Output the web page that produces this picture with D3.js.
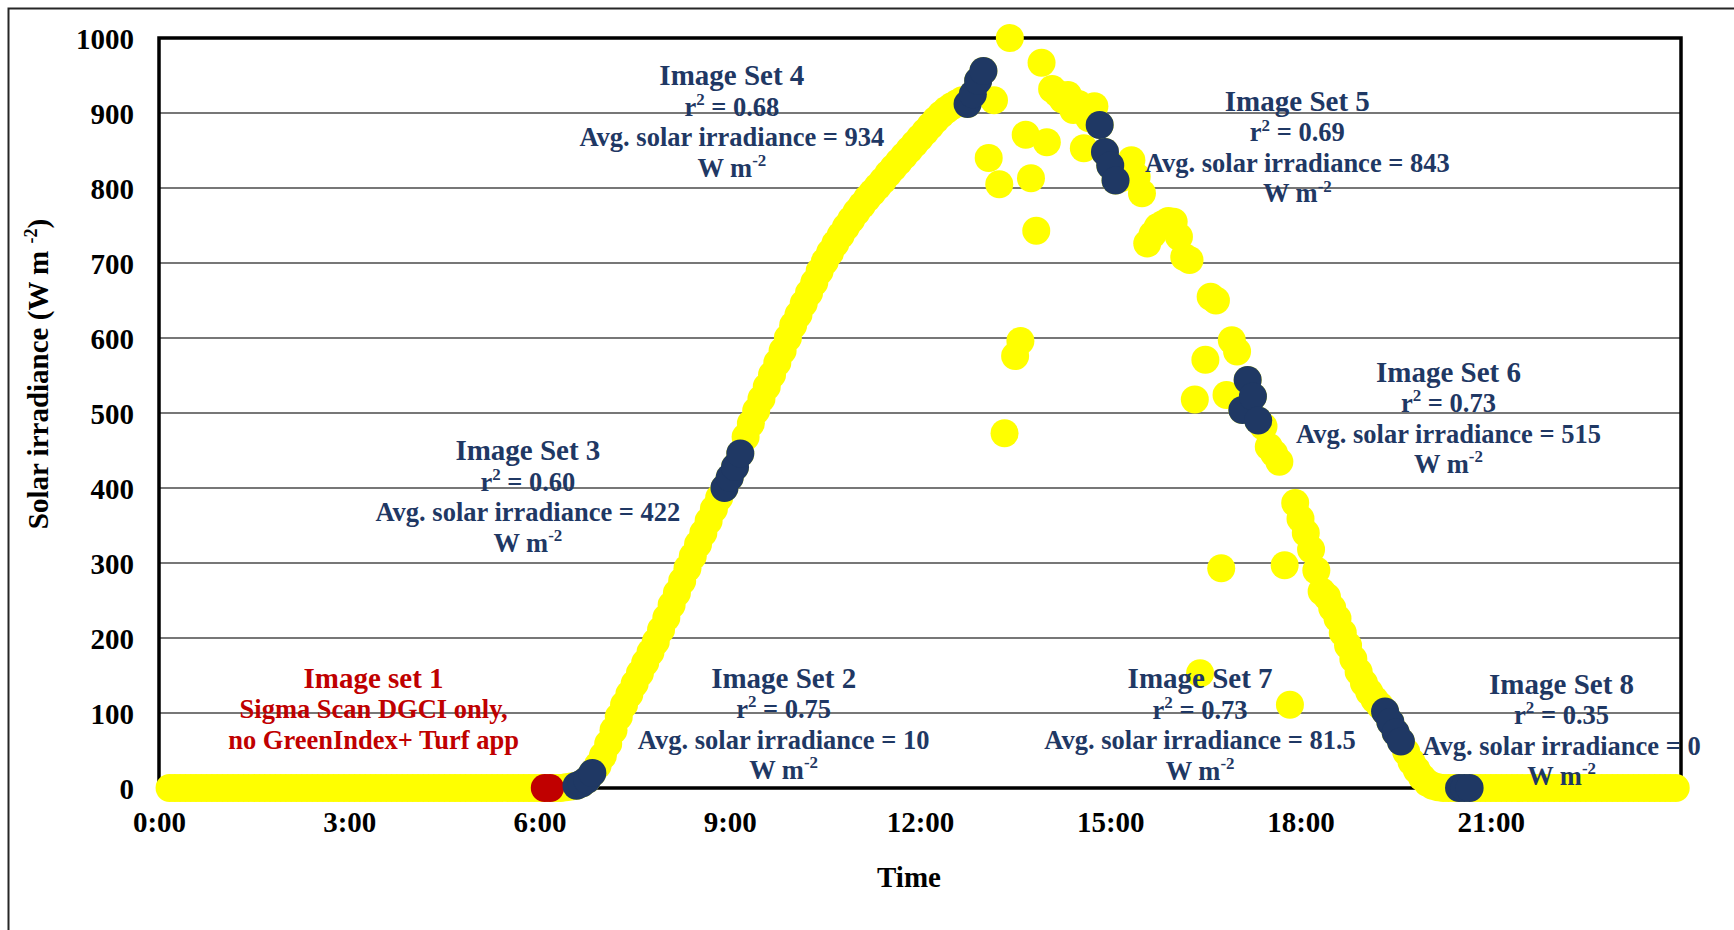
<!DOCTYPE html>
<html>
<head>
<meta charset="utf-8">
<script src="https://cdn.jsdelivr.net/npm/d3@7"></script>
<style>
  html, body { margin: 0; padding: 0; background: #ffffff; }
  svg { display: block; }
  text { font-family: "Liberation Serif", "Times New Roman", serif; font-weight: bold; }
</style>
</head>
<body>
<svg id="chart" width="1734" height="930"></svg>
<script>
// ---- Data -----------------------------------------------------------------
// Logger readings of solar irradiance (W m-2), one every 5 minutes from 0:10.
const readingStart = "0:10";
const readingStepMinutes = 5;
const irradiance = [
  // 0:10 - 0:55
  0, 0, 0, 0, 0, 0, 0, 0, 0, 0,
  // 1:00 - 5:55
  0, 0, 0, 0, 0, 0, 0, 0, 0, 0, 0, 0,
  0, 0, 0, 0, 0, 0, 0, 0, 0, 0, 0, 0,
  0, 0, 0, 0, 0, 0, 0, 0, 0, 0, 0, 0,
  0, 0, 0, 0, 0, 0, 0, 0, 0, 0, 0, 0,
  0, 0, 0, 0, 0, 0, 0, 0, 0, 0, 0, 0,
  // 6:00
  0, 0, 0, 0, 0, 1, 2, 3, 6, 11, 20, 30,
  // 7:00
  43, 59, 77, 95, 111, 125, 139, 153, 167, 181, 195, 211,
  // 8:00
  227, 244, 260, 276, 293, 309, 325, 340, 356, 372, 387, 400,
  // 9:00
  414, 428, 446, 468, 486, 503, 519, 535, 551, 567, 583, 600,
  // 10:00
  617, 631, 646, 660, 674, 689, 702, 714, 726, 737, 748, 758,
  // 11:00
  768, 777, 786, 794, 802, 810, 819, 827, 835, 843, 851, 859,
  // 12:00
  867, 875, 883, 891, 898, 904, 909, 913, 917, 912, 925, 943,
  // 13:00
  956, 840, 917, 805, 473, 1000, 576, 596, 871, 813, 743, 967,
  // 14:00
  861, 932, 926, 918, 924, 904, 912, 853, 893, 909, 884, 848,
  // 15:00
  830, 810, 813, 822, 837, 815, 793, 726, 738, 748, 752, 756,
  // 16:00
  755, 735, 708, 704, 518, 153, 571, 655, 650, 293, 524, 597,
  // 17:00
  582, 504, 544, 522, 490, 482, 455, 446, 435, 297, 111, 380,
  // 18:00
  359, 340, 318, 290, 262, 255, 240, 226, 207, 190, 172, 155,
  // 19:00
  140, 128, 118, 110, 102, 88, 74, 62, 48, 35, 24, 14,
  // 20:00
  7, 3, 1, 0, 0, 0, 0, 0, 0, 0, 0, 0,
  // 21:00 - 23:55
  0, 0, 0, 0, 0, 0, 0, 0, 0, 0, 0, 0,
  0, 0, 0, 0, 0, 0, 0, 0, 0, 0, 0, 0,
  0, 0, 0, 0, 0, 0, 0, 0, 0, 0, 0, 0
];

// Readings taken while each image set was captured
const set1Times = ["6:05", "6:10"];
const set1Values = [0, 0];
const set2Times = ["6:35", "6:40", "6:45", "6:50"];
const set2Values = [3, 6, 11, 20];
const set3Times = ["8:55", "9:00", "9:05", "9:10"];
const set3Values = [400, 414, 428, 446];
const set4Times = ["12:45", "12:50", "12:55", "13:00"];
const set4Values = [912, 925, 943, 956];
const set5Times = ["14:50", "14:55", "15:00", "15:05"];
const set5Values = [884, 848, 830, 810];
const set6Times = ["17:05", "17:10", "17:15", "17:20"];
const set6Values = [504, 544, 522, 490];
const set7Times = ["19:20", "19:25", "19:30", "19:35"];
const set7Values = [102, 88, 74, 62];
const set8Times = ["20:30", "20:35", "20:40"];
const set8Values = [0, 0, 0];

// Annotation text for each image set
const setTitles = ["Image set 1", "Image Set 2", "Image Set 3", "Image Set 4",
                   "Image Set 5", "Image Set 6", "Image Set 7", "Image Set 8"];
const setR2 = [null, "0.75", "0.60", "0.68", "0.69", "0.73", "0.73", "0.35"];
const setAvgIrradiance = [null, "10", "422", "934", "843", "515", "81.5", "0"];
const set1Notes = ["Sigma Scan DGCI only,", "no GreenIndex+ Turf app"];

// Axis ticks
const xTickLabels = ["0:00", "3:00", "6:00", "9:00", "12:00", "15:00", "18:00", "21:00"];
const yTickValues = [0, 100, 200, 300, 400, 500, 600, 700, 800, 900, 1000];

// ---- Drawing --------------------------------------------------------------
function toMinutes(s) {
  const [h, m] = s.split(":").map(Number);
  return h * 60 + m;
}

const svg = d3.select("#chart");
const plot = { left: 159, right: 1681, top: 38, bottom: 788 };

const x = d3.scaleLinear().domain([0, 24 * 60]).range([plot.left, plot.right]);
const y = d3.scaleLinear().domain([0, 1000]).range([plot.bottom, plot.top]);

const YELLOW = "#FFFF00", NAVY = "#1F3864", RED = "#C00000";

// outer frame
svg.append("path")
  .attr("d", "M8.5,930 V8.5 H1734")
  .attr("fill", "none").attr("stroke", "#262626").attr("stroke-width", 2);

// horizontal gridlines
svg.append("g").selectAll("line")
  .data(yTickValues.filter(v => v > 0 && v < 1000))
  .join("line")
  .attr("x1", plot.left).attr("x2", plot.right)
  .attr("y1", d => y(d)).attr("y2", d => y(d))
  .attr("stroke", "#777777").attr("stroke-width", 1.8);

// plot area border
svg.append("rect")
  .attr("x", plot.left).attr("y", plot.top)
  .attr("width", plot.right - plot.left).attr("height", plot.bottom - plot.top)
  .attr("fill", "none").attr("stroke", "#000").attr("stroke-width", 3.5);

// y axis labels
const yAxis = svg.append("g")
  .attr("transform", `translate(${plot.left},0)`)
  .call(d3.axisLeft(y).tickValues(yTickValues).tickSize(0).tickPadding(25).tickFormat(d3.format("d")));
yAxis.select(".domain").remove();
yAxis.selectAll("text")
  .attr("dy", "0.35em")
  .attr("fill", "#000")
  .style("font-size", "29px")
  .style("font-family", "'Liberation Serif', 'Times New Roman', serif")
  .style("font-weight", "bold");

// x axis labels
const xAxis = svg.append("g")
  .attr("transform", `translate(0,${plot.bottom})`)
  .call(d3.axisBottom(x).tickValues(xTickLabels.map(toMinutes)).tickSize(0)
    .tickFormat((d, i) => xTickLabels[i]));
xAxis.select(".domain").remove();
xAxis.selectAll("text")
  .attr("y", 44).attr("dy", 0)
  .attr("fill", "#000")
  .style("font-size", "29px")
  .style("font-family", "'Liberation Serif', 'Times New Roman', serif")
  .style("font-weight", "bold");

// axis titles
svg.append("text")
  .attr("x", 909).attr("y", 887)
  .attr("text-anchor", "middle")
  .style("font-size", "29px")
  .text("Time");

const yTitle = svg.append("text")
  .attr("transform", "translate(47.5,374) rotate(-90)")
  .attr("text-anchor", "middle")
  .style("font-size", "29px");
yTitle.append("tspan").text("Solar irradiance (W m ");
yTitle.append("tspan").text("-2").style("font-size", "18px").attr("dy", -11);
yTitle.append("tspan").text(")").attr("dy", 11);

// all readings
const startMin = toMinutes(readingStart);
const readings = irradiance.map((v, i) => ({ t: startMin + i * readingStepMinutes, v }));
const R = 14;

svg.append("g").selectAll("circle")
  .data(readings)
  .join("circle")
  .attr("cx", d => x(d.t)).attr("cy", d => y(d.v))
  .attr("r", R).attr("fill", YELLOW);

// image set readings
const imageSets = [
  { times: set1Times, values: set1Values, color: RED },
  { times: set2Times, values: set2Values, color: NAVY },
  { times: set3Times, values: set3Values, color: NAVY },
  { times: set4Times, values: set4Values, color: NAVY },
  { times: set5Times, values: set5Values, color: NAVY },
  { times: set6Times, values: set6Values, color: NAVY },
  { times: set7Times, values: set7Values, color: NAVY },
  { times: set8Times, values: set8Values, color: NAVY }
];
imageSets.forEach(s => {
  svg.append("g").selectAll("circle")
    .data(s.times.map((t, i) => ({ t: toMinutes(t), v: s.values[i] })))
    .join("circle")
    .attr("cx", d => x(d.t)).attr("cy", d => y(d.v))
    .attr("r", R).attr("fill", s.color);
});

// annotations: centre time and title baseline (in W m-2) for each set
const labelAnchors = [
  { time: "3:23", value: 134 },
  { time: "9:51", value: 134 },
  { time: "5:49", value: 437 },
  { time: "9:02", value: 937 },
  { time: "17:57", value: 903 },
  { time: "20:20", value: 542 },
  { time: "16:25", value: 133 },
  { time: "22:07", value: 126 }
];

function drawLabel(cx, baseY, color, lines) {
  const g = svg.append("g").attr("fill", color);
  lines.forEach((parts, i) => {
    const size = i === 0 ? 29 : 26.5;
    const t = g.append("text")
      .attr("x", cx).attr("y", baseY + i * 30.5)
      .attr("text-anchor", "middle")
      .style("font-size", size + "px");
    let raised = false;
    parts.forEach(p => {
      if (typeof p === "string") {
        const ts = t.append("tspan").text(p);
        if (raised) { ts.attr("dy", size * 0.4); raised = false; }
      } else {
        t.append("tspan").text(p.sup)
          .style("font-size", (size * 0.64) + "px")
          .attr("dy", -size * 0.4);
        raised = true;
      }
    });
  });
}

setTitles.forEach((title, i) => {
  const a = labelAnchors[i];
  const cx = x(toMinutes(a.time));
  const by = y(a.value);
  if (i === 0) {
    drawLabel(cx, by, RED, [[title], [set1Notes[0]], [set1Notes[1]]]);
  } else {
    drawLabel(cx, by, NAVY, [
      [title],
      ["r", { sup: "2" }, " = " + setR2[i]],
      ["Avg. solar irradiance = " + setAvgIrradiance[i]],
      ["W m", { sup: "-2" }]
    ]);
  }
});
</script>
</body>
</html>
